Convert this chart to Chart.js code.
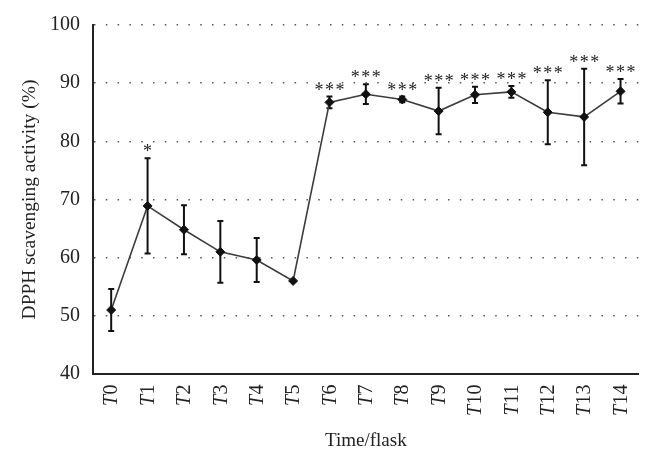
<!DOCTYPE html>
<html>
<head>
<meta charset="utf-8">
<script src="https://cdn.jsdelivr.net/npm/chart.js@4.4.1/dist/chart.umd.min.js"></script>
<style>
  html, body { margin: 0; padding: 0; background: #fff; }
  #wrap { width: 654px; height: 460px; position: relative; }
</style>
</head>
<body>
<div id="wrap"><canvas id="c" width="654" height="460"></canvas></div>
<script>
const categories = ["T0","T1","T2","T3","T4","T5","T6","T7","T8","T9","T10","T11","T12","T13","T14"];
const meanValues = [51.0, 68.9, 64.8, 61.0, 59.6, 56.0, 86.7, 88.1, 87.2, 85.2, 88.0, 88.5, 85.0, 84.2, 88.6];
const errorValues = [3.6, 8.2, 4.2, 5.3, 3.8, 0, 1.0, 1.7, 0.5, 4.0, 1.4, 1.0, 5.5, 8.3, 2.1];
const significance = ["", "*", "", "", "", "", "***", "***", "***", "***", "***", "***", "***", "***", "***"];
const yTicks = [40, 50, 60, 70, 80, 90, 100];

const SERIF = '"Liberation Serif", "DejaVu Serif", serif';

const errorBarPlugin = {
  id: 'errorBars',
  beforeDatasetsDraw(chart) {
    const ctx = chart.ctx;
    const xs = chart.scales.x, ys = chart.scales.y;
    ctx.save();
    ctx.strokeStyle = '#111';
    ctx.lineWidth = 2;
    meanValues.forEach((v, i) => {
      const e = errorValues[i];
      if (!e) return;
      const x = xs.getPixelForValue(i);
      const yt = ys.getPixelForValue(v + e);
      const yb = ys.getPixelForValue(v - e);
      ctx.beginPath();
      ctx.moveTo(x, yt); ctx.lineTo(x, yb);
      ctx.moveTo(x - 3, yt); ctx.lineTo(x + 3, yt);
      ctx.moveTo(x - 3, yb); ctx.lineTo(x + 3, yb);
      ctx.stroke();
    });
    ctx.restore();
  },
  afterDatasetsDraw(chart) {
    const ctx = chart.ctx;
    const xs = chart.scales.x, ys = chart.scales.y;
    ctx.save();
    ctx.fillStyle = '#222';
    ctx.font = '18px ' + SERIF;
    ctx.textAlign = 'center';
    ctx.textBaseline = 'alphabetic';
    significance.forEach((s, i) => {
      if (!s) return;
      const x = xs.getPixelForValue(i);
      const y = ys.getPixelForValue(meanValues[i] + errorValues[i]) - 1;
      const n = s.length;
      for (let k = 0; k < n; k++) {
        ctx.fillText('*', x + (k - (n - 1) / 2) * 10.5, y);
      }
    });
    ctx.restore();
  },
  afterDraw(chart) {
    // category labels: italic "T" followed by upright number, rotated to read upward
    const ctx = chart.ctx;
    const xs = chart.scales.x;
    const top = xs.top + 11;
    ctx.save();
    ctx.fillStyle = '#222';
    ctx.textBaseline = 'middle';
    ctx.textAlign = 'left';
    categories.forEach((lab, i) => {
      const x = xs.getPixelForValue(i);
      const head = lab.charAt(0), tail = lab.slice(1);
      ctx.font = 'italic 20px ' + SERIF;
      const wH = ctx.measureText(head).width;
      ctx.font = '20px ' + SERIF;
      const wT = ctx.measureText(tail).width;
      const total = wH + wT;
      ctx.save();
      ctx.translate(x + 1, top);
      ctx.rotate(-Math.PI / 2);
      ctx.font = 'italic 20px ' + SERIF;
      ctx.fillText(head, -total, 0);
      ctx.font = '20px ' + SERIF;
      ctx.fillText(tail, -total + wH + 0.5, 0);
      ctx.restore();
    });
    ctx.restore();
  }
};

new Chart(document.getElementById('c'), {
  type: 'line',
  data: {
    labels: categories,
    datasets: [{
      data: meanValues,
      borderColor: '#3c3c3c',
      borderWidth: 1.6,
      pointStyle: 'rectRot',
      pointRadius: 4.5,
      pointBackgroundColor: '#111',
      pointBorderColor: '#111',
      pointBorderWidth: 1,
      tension: 0,
      fill: false
    }]
  },
  options: {
    responsive: false,
    animation: false,
    devicePixelRatio: 1,
    layout: { padding: { top: 21, right: 14, left: 18, bottom: 0 } },
    plugins: { legend: { display: false }, tooltip: { enabled: false } },
    scales: {
      x: {
        offset: true,
        grid: { display: false, drawTicks: false },
        border: { display: true, color: '#222', width: 2 },
        ticks: {
          maxRotation: 90, minRotation: 90, padding: 9,
          color: 'rgba(0,0,0,0)',
          font: { family: SERIF, size: 20, style: 'italic' }
        },
        title: {
          display: true, text: 'Time/flask', color: '#222',
          font: { family: SERIF, size: 19 }, padding: { top: 4, bottom: 8 }
        },
        afterFit(scale) { scale.height = 86; }
      },
      y: {
        min: 40, max: 100,
        afterBuildTicks(scale) { scale.ticks = yTicks.map(v => ({ value: v })); },
        grid: { display: true, drawTicks: false, color: '#555', lineWidth: 1.5 },
        border: { display: true, color: '#222', width: 2, dash: [1.5, 10.3], dashOffset: 0 },
        ticks: {
          padding: 13, color: '#222',
          font: { family: SERIF, size: 20 }
        },
        title: {
          display: true, text: 'DPPH scavenging activity (%)', color: '#222',
          font: { family: SERIF, size: 19.5 }, padding: { top: 0, bottom: 4 }
        },
        afterFit(scale) { scale.width = 75; }
      }
    }
  },
  plugins: [errorBarPlugin]
});
</script>
</body>
</html>
